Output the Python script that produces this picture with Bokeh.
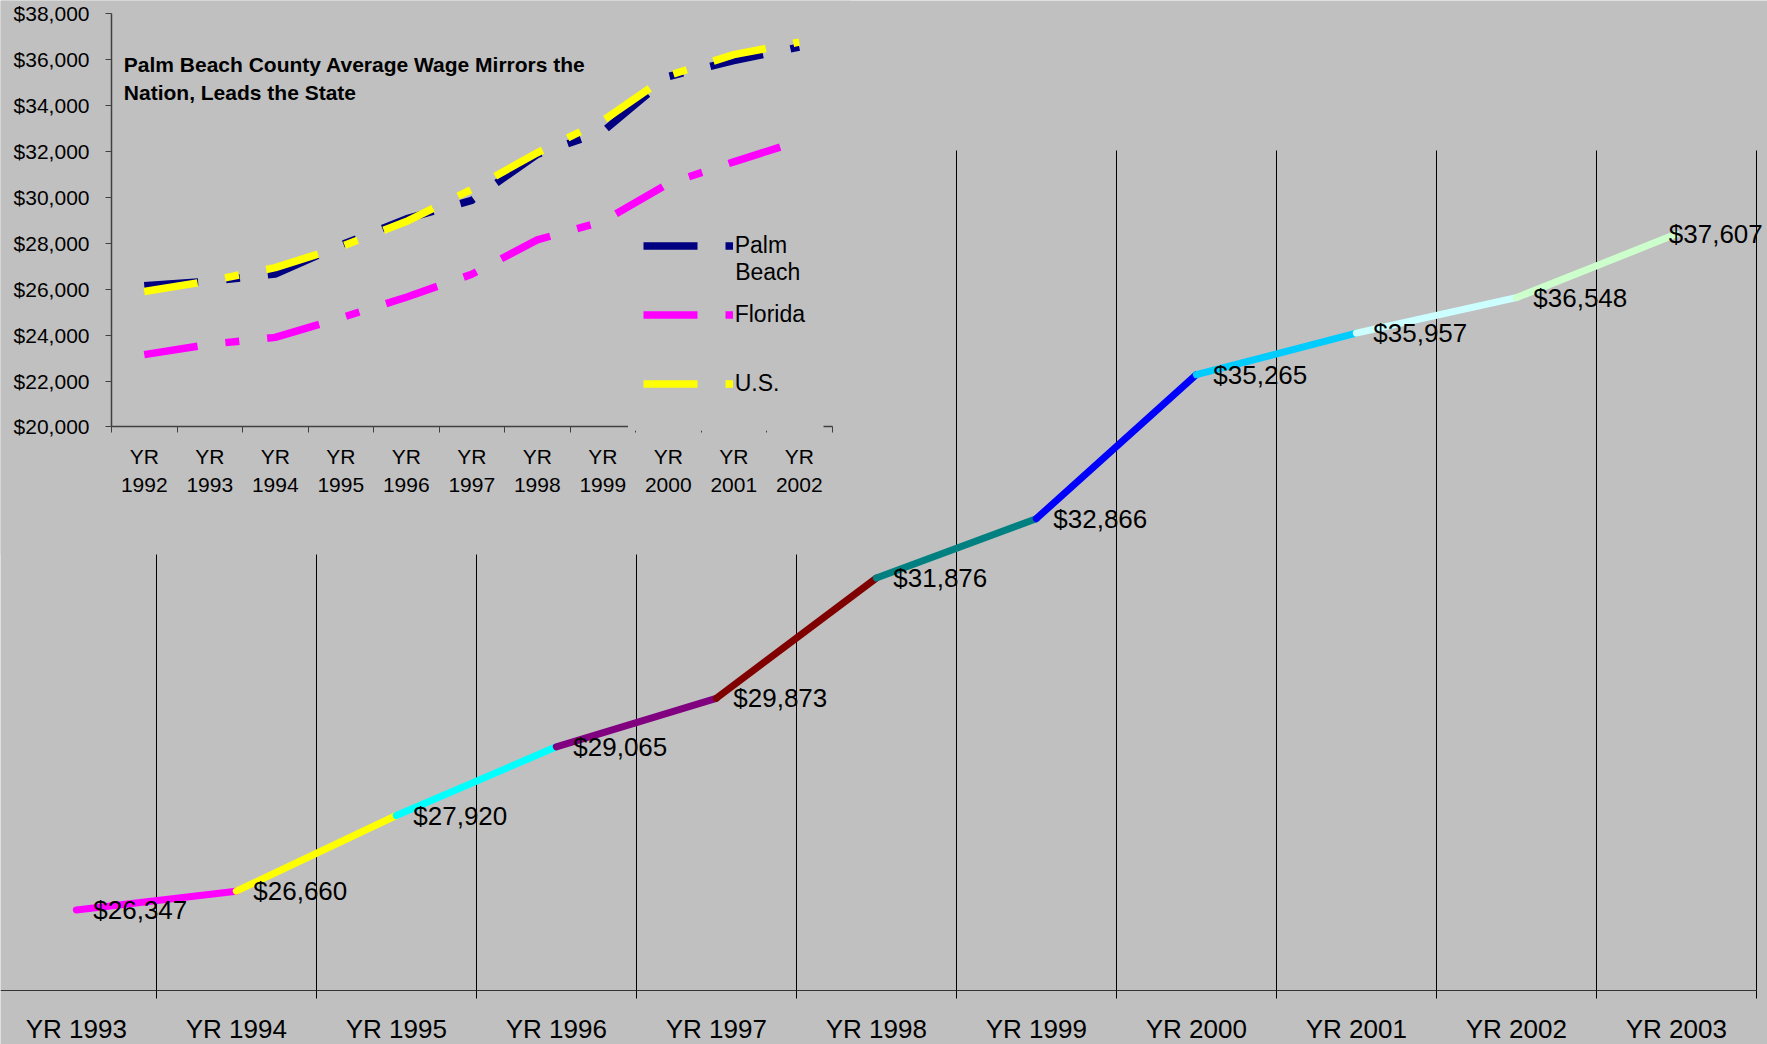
from bokeh.plotting import figure
from bokeh.models import (Range1d, LinearAxis, FixedTicker, NumeralTickFormatter, Grid,
                          Legend, LegendItem, Label, BoxAnnotation)
from bokeh.embed import file_html
from bokeh.resources import INLINE
from bokeh.core.properties import value

# ---------------- data ----------------
main_years = ["YR 1993", "YR 1994", "YR 1995", "YR 1996", "YR 1997", "YR 1998",
              "YR 1999", "YR 2000", "YR 2001", "YR 2002", "YR 2003"]
main_wages = [26347, 26660, 27920, 29065, 29873, 31876, 32866, 35265, 35957, 36548, 37607]

inset_years = ["1992", "1993", "1994", "1995", "1996", "1997",
               "1998", "1999", "2000", "2001", "2002"]
palm_beach = [26150, 26347, 26660, 27920, 29065, 29873, 31876, 32866, 35265, 35957, 36548]
florida = [23150, 23600, 23900, 24750, 25650, 26650, 28150, 28950, 30600, 31550, 32450]
us = [25897, 26361, 26939, 27846, 28946, 30353, 31945, 33340, 35305, 36219, 36764]
inset_ticks = [20000, 22000, 24000, 26000, 28000, 30000, 32000, 34000, 36000, 38000]

title_lines = ["Palm Beach County Average Wage Mirrors the", "Nation, Leads the State"]
legend_labels = ["Palm", "Florida", "U.S."]

# ---------------- styles ----------------
BG = "#C0C0C0"
FONT = "Liberation Sans"
segment_colors = ["#FF00FF", "#FFFF00", "#00FFFF", "#800080", "#800000",
                  "#008080", "#0000FF", "#00CCFF", "#CCFFFF", "#CCFFCC"]
series_colors = ["#000080", "#FF00FF", "#FFFF00"]
AXIS_C = "#404040"

FIG_W, FIG_H = 1767, 1044
OX, OY = 0, 0   # reference pixel at the figure's top-left


def lin(r, ra, va, rb, vb):
    return va + (r - ra) * (vb - va) / (rb - ra)


# layout anchors (reference pixels)
mx = lambda r: lin(r, 75.8, 0, 235.8, 1)          # main category index
my = lambda r: lin(r, 990.3, 25000, 150.0, 39000)  # main wage
ix = lambda r: lin(r, 143.75, 0, 209.25, 1)        # inset category index
iy = lambda r: lin(r, 426.4, 20000, 13.3, 38000)   # inset wage

p = figure(width=FIG_W, height=FIG_H,
           x_range=Range1d(mx(OX), mx(OX + FIG_W)),
           y_range=Range1d(my(OY + FIG_H), my(OY)),
           x_axis_type=None, y_axis_type=None,
           output_backend="svg", toolbar_location=None, min_border=0,
           background_fill_color=BG, border_fill_color=BG, outline_line_color=None)
p.extra_x_ranges = {"ix": Range1d(ix(OX), ix(OX + FIG_W))}
p.extra_y_ranges = {"iy": Range1d(iy(OY + FIG_H), iy(OY))}

n = len(main_years)
xs = list(range(n))
bounds_main = [k + 0.5 for k in range(n)]

# main vertical gridlines
p.add_layout(Grid(dimension=0, ticker=FixedTicker(ticks=bounds_main),
                  cross_bounds=(25000, 39000),
                  grid_line_color="black", grid_line_width=1))

# inset background panel (hides main gridlines)
p.quad(left=[mx(0)], right=[mx(850)], top=[my(0)], bottom=[my(554)],
       fill_color=BG, line_color=None)

# main multi-coloured line
p.segment(x0=xs[:-1], y0=main_wages[:-1], x1=xs[1:], y1=main_wages[1:],
          line_color=segment_colors, line_width=7, line_cap="round")

# main data labels
offsets = [17] * (n - 1) + [-7.5]
p.text(x=xs, y=main_wages, text=[f"${v:,}" for v in main_wages], x_offset=offsets,
       text_baseline="middle", text_align="left", text_color="black",
       text_font=value(FONT), text_font_size="26px")

# main x axis
xa = LinearAxis(fixed_location=25000, bounds=(mx(0), n - 0.5),
                ticker=FixedTicker(ticks=xs, minor_ticks=bounds_main),
                major_label_overrides={i: lab for i, lab in enumerate(main_years)},
                major_tick_out=0, major_tick_in=0,
                minor_tick_out=8, minor_tick_in=0, minor_tick_line_color="black",
                axis_line_color="#333333", axis_line_width=1.2,
                major_label_text_font=FONT, major_label_text_font_size="26px",
                major_label_text_color="black", major_label_standoff=15)
p.add_layout(xa, "below")

# inset lines
m = len(inset_years)
ixs = list(range(m))
renderers = []
for vals, col in zip([palm_beach, florida, us], series_colors):
    r = p.line(x=ixs, y=vals, x_range_name="ix", y_range_name="iy",
               line_color=col, line_width=7.5, line_dash="54 28 14 28", line_cap="butt")
    renderers.append(r)

# inset y axis
ya = LinearAxis(x_range_name="ix", y_range_name="iy", fixed_location=-0.5,
                bounds=(inset_ticks[0], inset_ticks[-1]),
                ticker=FixedTicker(ticks=inset_ticks),
                formatter=NumeralTickFormatter(format="$0,0"),
                major_tick_out=6, major_tick_in=0, minor_tick_out=0, minor_tick_in=0,
                axis_line_color=AXIS_C, axis_line_width=1.5, major_tick_line_color=AXIS_C,
                major_label_text_font=FONT, major_label_text_font_size="21px",
                major_label_text_color="black", major_label_standoff=16)
p.add_layout(ya, "left")

# inset x axis
ia = LinearAxis(x_range_name="ix", y_range_name="iy", fixed_location=inset_ticks[0],
                bounds=(-0.5, m - 0.5),
                ticker=FixedTicker(ticks=ixs, minor_ticks=[j - 0.5 for j in range(m + 1)]),
                major_label_overrides={i: "YR\n" + yr for i, yr in enumerate(inset_years)},
                major_tick_out=0, major_tick_in=0, minor_tick_out=6, minor_tick_in=0,
                minor_tick_line_color=AXIS_C,
                axis_line_color=AXIS_C, axis_line_width=1.5,
                major_label_text_font=FONT, major_label_text_font_size="21px",
                major_label_text_line_height=1.2,
                major_label_text_color="black", major_label_standoff=12)
p.add_layout(ia, "below")

# inset title
for txt, ry in zip(title_lines, [64, 91.7]):
    p.add_layout(Label(x=mx(123.3), y=my(ry), text=txt, text_font=FONT,
                       text_font_size="21px", text_font_style="bold",
                       text_baseline="middle", text_align="left", text_color="black"))

# legend
item_h, item_gap = 27, 42
leg_top = 245.0 - item_h / 2
leg_bottom = leg_top + 3 * item_h + 2 * item_gap
legend = Legend(items=[LegendItem(label=lab, renderers=[r])
                       for lab, r in zip(legend_labels, renderers)],
                location=(642.7 - OX, FIG_H - (leg_bottom - OY)),
                glyph_width=90, glyph_height=item_h, label_height=item_h, label_standoff=2,
                spacing=item_gap, padding=0, margin=0,
                border_line_color=None, background_fill_alpha=0,
                label_text_font=FONT, label_text_font_size="23px", label_text_color="black")
p.add_layout(legend)
p.add_layout(Label(x=mx(734.7), y=my(271.5), text="Beach", text_font=FONT,
                   text_font_size="23px", text_baseline="middle", text_align="left",
                   text_color="black"))

# legend box hides part of the inset category axis (as in original)
p.add_layout(BoxAnnotation(left=mx(627.5), right=mx(823), top=my(405), bottom=my(430.3),
                           fill_color=BG, fill_alpha=1, line_color=None))

open("out.html", "w").write(file_html(p, INLINE))
